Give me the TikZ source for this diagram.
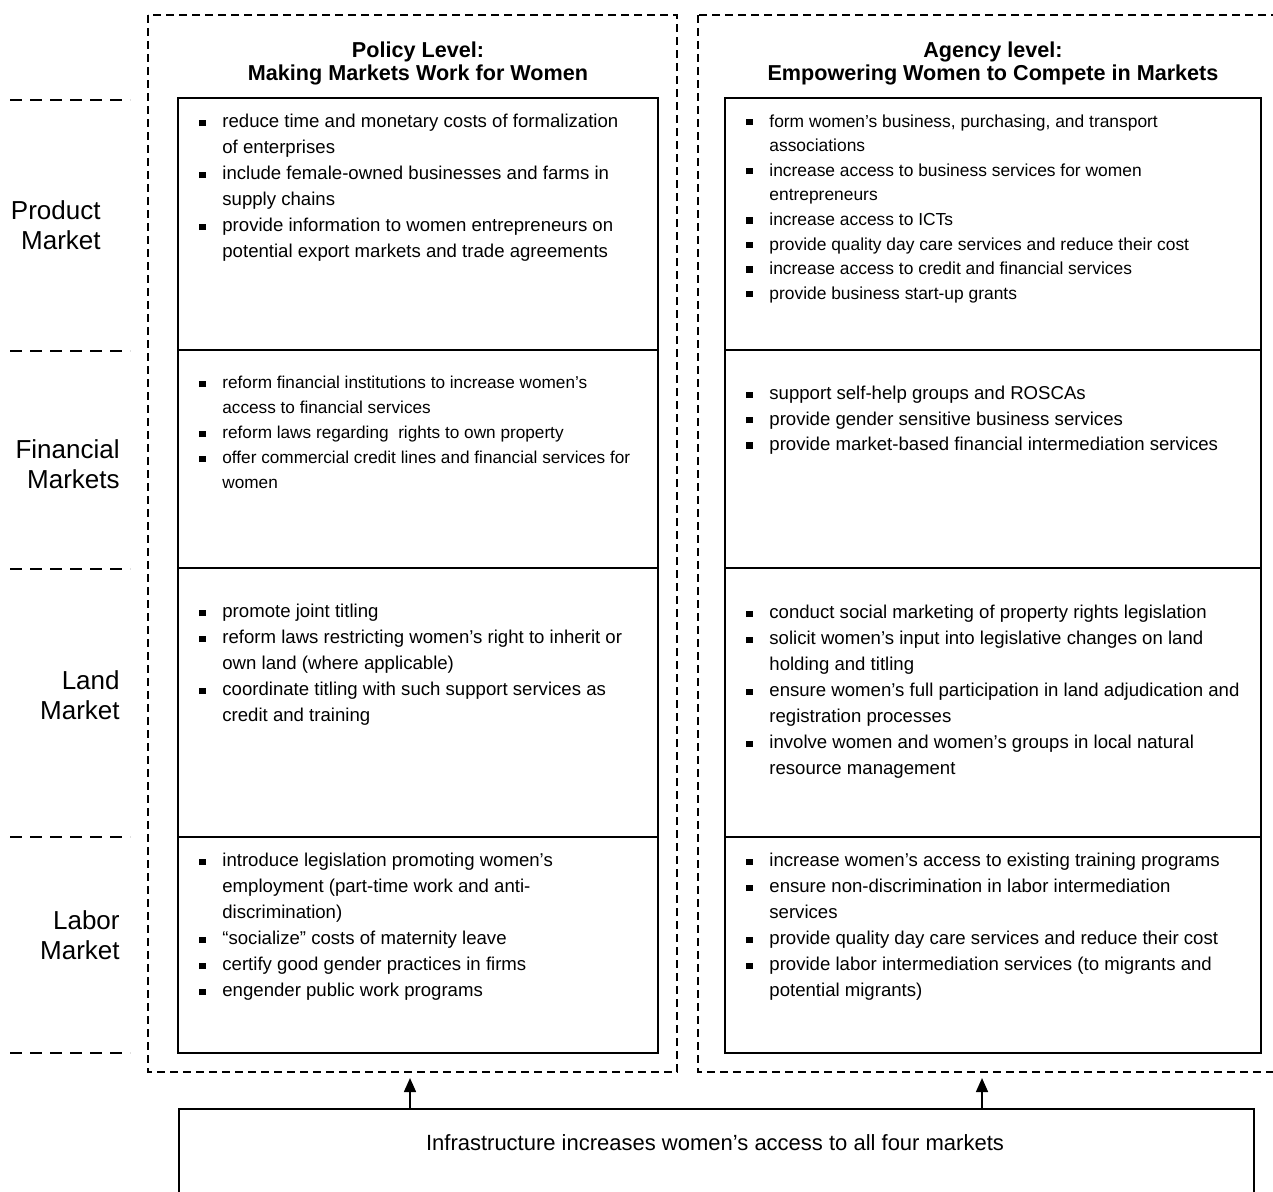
\documentclass[tikz,border=0pt]{standalone}
\usepackage{fontspec}
\setmainfont{Liberation Sans}
\usetikzlibrary{arrows.meta}
\newcommand{\bul}{\makebox[11.5pt][l]{\rule[0.9pt]{3.2pt}{3.2pt}}}
\newcommand{\ind}{\hspace*{11.5pt}}

\begin{document}
\begin{tikzpicture}[x=0.5pt, y=-0.5pt,
    outer/.style={dash pattern=on 4pt off 2.5pt, line width=0.9pt},
    tick/.style={dash pattern=on 6pt off 4pt, line width=0.8pt},
    cell/.style={line width=1pt},
    items/.style={anchor=north west, inner sep=0pt, align=left, font=\fontsize{9.3}{13}\selectfont},
    market/.style={anchor=east, inner sep=0pt, align=right, font=\fontsize{13}{15}\selectfont},
    head/.style={inner sep=0pt, align=center, font=\bfseries\fontsize{10.8}{11.5}\selectfont},
    arr/.style={-{Triangle[width=6pt,length=7pt]}, line width=0.8pt}
  ]
  \useasboundingbox (0,0) rectangle (1273,1191);
  \clip (0,0) rectangle (1273,1191);

  % dashed frames and market rules
  \draw[outer] (148,15) rectangle (677,1072);
  \draw[outer] (698,15) rectangle (1290,1072);
  \foreach \y in {100,351,569,837,1053} \draw[tick] (10,\y) -- (130,\y);

  % the two tables
  \draw[cell] (178,98) rectangle (658,1053);
  \draw[cell] (725,98) rectangle (1261,1053);
  \foreach \y in {350,568,837} {
    \draw[cell] (178,\y) -- (658,\y);
    \draw[cell] (725,\y) -- (1261,\y);
  }

  % headings
  \node[head] (polhead) at (418,63) {Policy Level:\\Making Markets Work for Women};
  \node[head] (aghead) at (993,63) {Agency level:\\Empowering Women to Compete in Markets};

  % markets
  \node[market] (product) at (101,225) {Product\\Market};
  \node[market] (financial) at (120,464) {Financial\\Markets};
  \node[market] (land) at (120,695) {Land\\Market};
  \node[market] (labor) at (120,935) {Labor\\Market};

  % policy level
  \node[items] (polprod) at (199,114) {\bul reduce time and monetary costs of formalization\\
    \ind of enterprises\\
    \bul include female-owned businesses and farms in\\
    \ind supply chains\\
    \bul provide information to women entrepreneurs on\\
    \ind potential export markets and trade agreements};
  \node[items, font=\fontsize{8.6}{12.5}\selectfont] (polfin) at (199,376) {\bul reform financial institutions to increase women’s\\
    \ind access to financial services\\
    \bul reform laws regarding\ \ rights to own property\\
    \bul offer commercial credit lines and financial services for\\
    \ind women};
  \node[items] (polland) at (199,604) {\bul promote joint titling\\
    \bul reform laws restricting women’s right to inherit or\\
    \ind own land (where applicable)\\
    \bul coordinate titling with such support services as\\
    \ind credit and training};
  \node[items] (pollab) at (199,853) {\bul introduce legislation promoting women’s\\
    \ind employment (part-time work and anti-\\
    \ind discrimination)\\
    \bul “socialize” costs of maternity leave\\
    \bul certify good gender practices in firms\\
    \bul engender public work programs};

  % agency level
  \node[items, font=\fontsize{8.7}{12.3}\selectfont] (agprod) at (746,114) {\bul form women’s business, purchasing, and transport\\
    \ind associations\\
    \bul increase access to business services for women\\
    \ind entrepreneurs\\
    \bul increase access to ICTs\\
    \bul provide quality day care services and reduce their cost\\
    \bul increase access to credit and financial services\\
    \bul provide business start-up grants};
  \node[items, font=\fontsize{9.3}{12.7}\selectfont] (agfin) at (746,386) {\bul support self-help groups and ROSCAs\\
    \bul provide gender sensitive business services\\
    \bul provide market-based financial intermediation services};
  \node[items] (agland) at (746,605) {\bul conduct social marketing of property rights legislation\\
    \bul solicit women’s input into legislative changes on land\\
    \ind holding and titling\\
    \bul ensure women’s full participation in land adjudication and\\
    \ind registration processes\\
    \bul involve women and women’s groups in local natural\\
    \ind resource management};
  \node[items] (aglab) at (746,853) {\bul increase women’s access to existing training programs\\
    \bul ensure non-discrimination in labor intermediation\\
    \ind services\\
    \bul provide quality day care services and reduce their cost\\
    \bul provide labor intermediation services (to migrants and\\
    \ind potential migrants)};

  % infrastructure
  \node[cell, draw, anchor=north west, inner sep=0pt, minimum width=537.5pt, minimum height=100pt] (infra) at (178,1108) {};
  \node[inner sep=0pt, font=\fontsize{11}{13}\selectfont] (infratext) at (715,1143) {Infrastructure increases women’s access to all four markets};
  \coordinate (polin) at (410,1078);
  \coordinate (agin) at (982,1078);
  \draw[arr] (polin |- infra.north) -- (polin);
  \draw[arr] (agin |- infra.north) -- (agin);
\end{tikzpicture}
\end{document}
